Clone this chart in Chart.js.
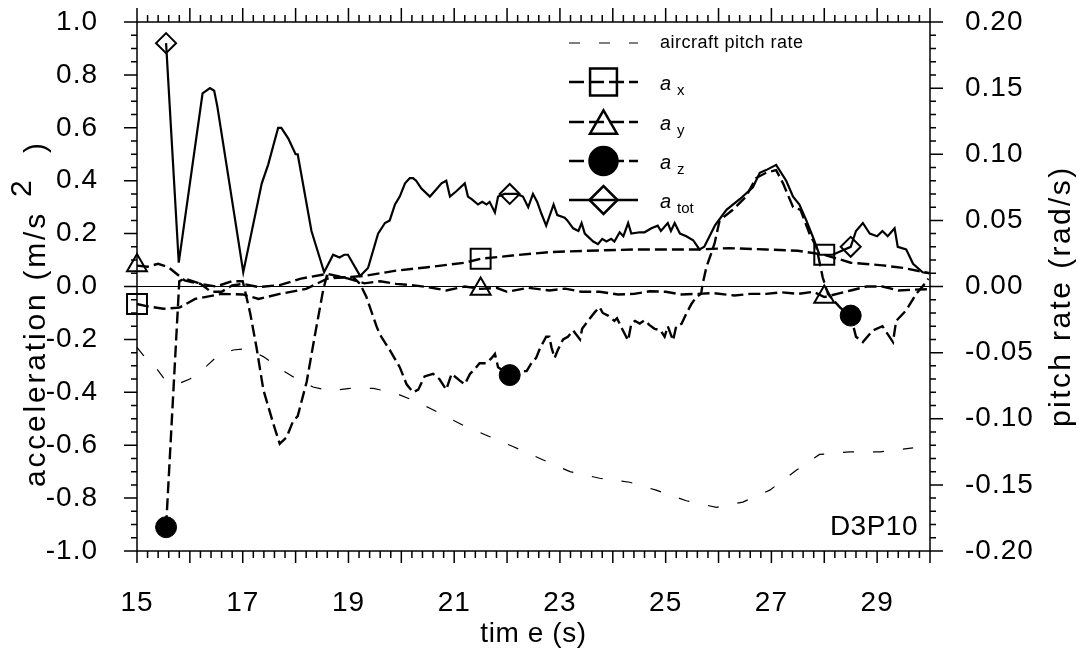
<!DOCTYPE html>
<html>
<head>
<meta charset="utf-8">
<script src="https://cdn.jsdelivr.net/npm/chart.js@4.4.0/dist/chart.umd.min.js"></script>
<style>
  html, body { margin: 0; padding: 0; background: #fff; }
</style>
</head>
<body>
<canvas id="accChart" width="1079" height="657"></canvas>
<script>
// axis tick labels
const timeLabels = [15, 17, 19, 21, 23, 25, 27, 29];
const accLabels = [-1.0, -0.8, -0.6, -0.4, -0.2, 0.0, 0.2, 0.4, 0.6, 0.8, 1.0];
const pitchLabels = [-0.20, -0.15, -0.10, -0.05, 0.00, 0.05, 0.10, 0.15, 0.20];

// times where the symbols sit
const markerTimesXY = [15.0, 21.5, 28.0];
const markerTimesZT = [15.55, 22.05, 28.5];

// a_x
const timeX = [15.0, 15.2, 15.5, 15.8, 16.1, 16.6, 17.0, 17.3, 17.7, 18.2, 18.6, 19.3, 19.9, 20.5, 21.2, 21.5, 22.1, 22.8, 23.5, 24.4, 25.6, 26.2, 26.9, 27.5, 28.0, 28.5, 29.1, 29.5, 30.0];
const accX = [-0.066, -0.075, -0.084, -0.08, -0.047, -0.028, -0.03, -0.047, -0.028, -0.009, 0.03, 0.04, 0.06, 0.073, 0.09, 0.105, 0.117, 0.13, 0.135, 0.14, 0.14, 0.145, 0.14, 0.135, 0.12, 0.09, 0.08, 0.07, 0.05];

// a_y
const timeY = [15.0, 15.2, 15.4, 15.6, 15.8, 15.9, 16.2, 16.4, 16.6, 16.8, 17.0, 17.3, 17.7, 18.1, 18.6, 19.0, 19.3, 19.6, 19.9, 20.2, 20.5, 20.85, 21.2, 21.5, 21.8, 22.0, 22.4, 22.8, 23.1, 23.4, 23.75, 24.1, 24.4, 24.7, 25.0, 25.3, 25.6, 25.9, 26.3, 26.6, 26.9, 27.2, 27.5, 27.8, 28.0, 28.3, 28.5, 28.8, 29.1, 29.4, 29.7, 30.0];
const accY = [0.079, 0.075, 0.086, 0.072, 0.04, 0.023, 0.01, -0.02, -0.02, 0.004, 0.01, -0.002, 0.005, 0.03, 0.048, 0.03, 0.012, 0.02, 0.01, 0.005, -0.002, -0.015, 0.0, -0.009, -0.005, -0.02, -0.005, -0.015, -0.008, -0.02, -0.02, -0.03, -0.028, -0.018, -0.02, -0.03, -0.028, -0.025, -0.034, -0.028, -0.028, -0.022, -0.028, -0.02, -0.04, -0.025, -0.015, 0.0, 0.0, -0.015, -0.012, -0.01];

// a_z
const timeZ = [15.55, 15.8, 15.9, 16.2, 16.5, 16.8, 17.0, 17.14, 17.26, 17.39, 17.58, 17.7, 17.83, 17.95, 18.04, 18.21, 18.36, 18.52, 18.59, 18.77, 19.09, 19.22, 19.34, 19.53, 19.59, 19.78, 19.97, 20.1, 20.22, 20.32, 20.44, 20.6, 20.72, 20.85, 20.95, 21.1, 21.2, 21.3, 21.4, 21.48, 21.6, 21.71, 21.77, 21.83, 22.05, 22.2, 22.37, 22.46, 22.55, 22.62, 22.74, 22.8, 22.84, 22.9, 22.96, 23.06, 23.15, 23.25, 23.38, 23.42, 23.53, 23.66, 23.75, 23.81, 23.91, 24.03, 24.08, 24.16, 24.29, 24.35, 24.42, 24.51, 24.6, 24.69, 24.79, 24.9, 24.98, 25.04, 25.14, 25.2, 25.3, 25.39, 25.49, 25.58, 25.67, 25.7, 25.77, 25.86, 25.93, 26.02, 26.27, 26.52, 26.71, 26.9, 27.09, 27.22, 27.41, 27.55, 27.72, 27.85, 27.97, 28.07, 28.3, 28.5, 28.6, 28.73, 28.92, 29.1, 29.3, 29.36, 29.55, 29.74, 29.9, 29.97];
const accZ = [-0.91, 0.02, 0.03, 0.01, 0.0, 0.02, 0.02, -0.1, -0.23, -0.39, -0.52, -0.595, -0.57, -0.51, -0.49, -0.36, -0.19, -0.015, 0.04, 0.035, 0.035, 0.01, -0.04, -0.15, -0.18, -0.24, -0.305, -0.37, -0.4, -0.39, -0.34, -0.33, -0.35, -0.39, -0.33, -0.355, -0.37, -0.33, -0.31, -0.29, -0.29, -0.27, -0.255, -0.305, -0.335, -0.32, -0.32, -0.29, -0.27, -0.235, -0.19, -0.19, -0.23, -0.27, -0.24, -0.2, -0.19, -0.166, -0.2, -0.16, -0.13, -0.097, -0.078, -0.1, -0.11, -0.13, -0.12, -0.154, -0.204, -0.141, -0.13, -0.14, -0.128, -0.145, -0.16, -0.165, -0.19, -0.15, -0.204, -0.15, -0.141, -0.103, -0.065, -0.04, -0.028, 0.01, 0.073, 0.124, 0.167, 0.25, 0.29, 0.34, 0.41, 0.43, 0.44, 0.39, 0.3, 0.29, 0.2, 0.15, 0.035, -0.028, -0.08, -0.11, -0.19, -0.21, -0.166, -0.15, -0.21, -0.13, -0.09, -0.028, 0.01, 0.03];

// a_tot
const timeTot = [15.55, 15.79, 16.24, 16.38, 16.46, 16.52, 16.76, 17.01, 17.36, 17.48, 17.67, 17.73, 17.86, 18.0, 18.04, 18.3, 18.54, 18.71, 18.83, 18.92, 18.99, 19.22, 19.37, 19.56, 19.69, 19.78, 19.88, 19.97, 20.07, 20.16, 20.22, 20.28, 20.38, 20.54, 20.63, 20.76, 20.85, 20.92, 21.04, 21.2, 21.26, 21.33, 21.45, 21.53, 21.61, 21.67, 21.77, 21.83, 21.95, 22.05, 22.18, 22.3, 22.4, 22.49, 22.57, 22.65, 22.74, 22.88, 22.95, 23.09, 23.14, 23.25, 23.35, 23.41, 23.47, 23.63, 23.72, 23.8, 23.88, 23.97, 24.03, 24.13, 24.2, 24.29, 24.35, 24.51, 24.6, 24.73, 24.85, 24.91, 25.04, 25.1, 25.17, 25.27, 25.39, 25.52, 25.64, 25.73, 25.83, 25.93, 26.15, 26.4, 26.65, 26.78, 26.9, 27.09, 27.28, 27.41, 27.53, 27.66, 27.78, 27.91, 28.16, 28.5, 28.6, 28.73, 28.86, 29.0, 29.1, 29.2, 29.33, 29.39, 29.55, 29.68, 29.86, 29.98];
const accTot = [0.92, 0.09, 0.73, 0.75, 0.74, 0.68, 0.375, 0.054, 0.39, 0.46, 0.6, 0.6, 0.56, 0.5, 0.5, 0.21, 0.054, 0.12, 0.11, 0.12, 0.12, 0.04, 0.07, 0.2, 0.24, 0.25, 0.31, 0.34, 0.39, 0.41, 0.41, 0.4, 0.37, 0.34, 0.36, 0.39, 0.4, 0.34, 0.36, 0.39, 0.34, 0.33, 0.31, 0.32, 0.31, 0.32, 0.28, 0.34, 0.35, 0.35, 0.35, 0.34, 0.3, 0.35, 0.32, 0.275, 0.23, 0.31, 0.27, 0.26, 0.25, 0.22, 0.21, 0.24, 0.2, 0.17, 0.16, 0.18, 0.17, 0.18, 0.17, 0.205, 0.19, 0.24, 0.2, 0.205, 0.205, 0.22, 0.23, 0.21, 0.24, 0.21, 0.24, 0.2, 0.19, 0.175, 0.14, 0.15, 0.19, 0.23, 0.29, 0.33, 0.375, 0.43, 0.44, 0.46, 0.4, 0.34, 0.31, 0.25, 0.19, 0.12, 0.12, 0.15, 0.21, 0.24, 0.2, 0.19, 0.21, 0.19, 0.22, 0.15, 0.14, 0.086, 0.054, 0.05];

// aircraft pitch rate (rad/s, right axis)
const timePitch = [15.0, 15.12, 15.37, 15.5, 15.75, 16.0, 16.32, 16.51, 16.82, 17.07, 17.39, 17.7, 18.02, 18.33, 18.65, 19.03, 19.47, 19.91, 20.22, 20.54, 21.17, 21.64, 22.11, 22.62, 23.19, 23.75, 24.32, 24.82, 25.39, 25.96, 26.46, 26.97, 27.47, 27.91, 28.48, 29.05, 29.68];
const pitchRate = [-0.046, -0.052, -0.062, -0.069, -0.074, -0.07, -0.06, -0.053, -0.048, -0.047, -0.053, -0.062, -0.07, -0.076, -0.079, -0.077, -0.077, -0.081, -0.086, -0.092, -0.105, -0.113, -0.121, -0.13, -0.14, -0.145, -0.148, -0.154, -0.162, -0.167, -0.163, -0.154, -0.139, -0.127, -0.125, -0.125, -0.122];

const FONT = "'Liberation Sans', Arial, sans-serif";
Chart.defaults.font.family = FONT;
Chart.defaults.color = '#000';

const pts = (ts, vs) => ts.map((t, i) => ({ x: t, y: vs[i] }));
const markerRadius = (times, r) => (c) => {
    const t = c.raw ? c.raw.x : NaN;
    return times.some(m => Math.abs(m - t) < 1e-6) ? r : 0;
};
const near = (v, list) => list.some(l => Math.abs(l - v) < 1e-6);

// fixed box sizes so the plot area lands where the original has it
const fixBox = (w, h) => (s) => {
    if (w !== null) s.width = w;
    if (h !== null) s.height = h;
    s.paddingTop = 0;
    s.paddingBottom = 0;
    s.paddingLeft = 0;
    s.paddingRight = 0;
};

// Frame, ticks, titles and legend
const framePlugin = {
    id: 'framePlugin',
    beforeDraw(chart) {
        chart.ctx.letterSpacing = '1px';
    },
    beforeDatasetsDraw(chart) {
        const { ctx, chartArea: a, scales } = chart;
        const y0 = scales.y.getPixelForValue(0);
        ctx.save();
        ctx.strokeStyle = '#000';
        ctx.lineWidth = 1;
        ctx.beginPath();
        ctx.moveTo(a.left, y0);
        ctx.lineTo(a.right, y0);
        ctx.stroke();
        ctx.restore();
    },
    afterDraw(chart) {
        const { ctx, chartArea: a, scales } = chart;
        const x = scales.x, y = scales.y, y2 = scales.y2;
        ctx.save();
        ctx.strokeStyle = '#000';
        ctx.fillStyle = '#000';
        ctx.lineWidth = 1.5;
        ctx.strokeRect(a.left, a.top, a.right - a.left, a.bottom - a.top);

        ctx.beginPath();
        for (let i = 0; i <= 75; i++) {
            const px = x.getPixelForValue(15 + i * 0.2);
            const major = i % 5 === 0;
            ctx.moveTo(px, a.bottom); ctx.lineTo(px, a.bottom + (major ? 12 : 7));
            ctx.moveTo(px, a.top); ctx.lineTo(px, a.top - (major ? 14 : 7));
        }
        for (let i = 0; i <= 40; i++) {
            const py = y.getPixelForValue(-1 + i * 0.05);
            ctx.moveTo(a.left, py); ctx.lineTo(a.left - (i % 4 === 0 ? 13 : 6), py);
        }
        for (let i = 0; i <= 40; i++) {
            const py = y2.getPixelForValue(-0.2 + i * 0.01);
            ctx.moveTo(a.right, py); ctx.lineTo(a.right + (i % 5 === 0 ? 13 : 6), py);
        }
        ctx.stroke();

        // axis titles
        ctx.textBaseline = 'alphabetic';
        ctx.font = '28px ' + FONT;
        ctx.letterSpacing = '0.6px';
        ctx.textAlign = 'center';
        ctx.fillText('tim e (s)', (a.left + a.right) / 2, 642);

        ctx.textAlign = 'left';
        ctx.font = '30px ' + FONT;
        ctx.letterSpacing = '2.8px';
        ctx.save();
        ctx.translate(45, 487);
        ctx.rotate(-Math.PI / 2);
        ctx.fillText('acceleration (m/s', 0, 0);
        ctx.fillText('2', 290, -14);
        ctx.fillText(')', 334, 0);
        ctx.restore();

        ctx.letterSpacing = '2.4px';
        ctx.save();
        ctx.translate(1070, 427);
        ctx.rotate(-Math.PI / 2);
        ctx.fillText('pitch rate (rad/s)', 0, 0);
        ctx.restore();

        // panel tag
        ctx.font = '28px ' + FONT;
        ctx.letterSpacing = '0.5px';
        ctx.textAlign = 'right';
        ctx.fillText('D3P10', 918, 535);

        // legend
        const lx0 = 569, lx1 = 638, lxm = 603.5, tx = 660;
        ctx.textAlign = 'left';
        ctx.textBaseline = 'middle';
        ctx.lineWidth = 1.2;
        ctx.setLineDash([11, 19]);
        ctx.beginPath();
        ctx.moveTo(lx0, 43); ctx.lineTo(lx1, 43);
        ctx.stroke();
        ctx.setLineDash([]);
        ctx.font = '18px ' + FONT;
        ctx.letterSpacing = '0.5px';
        ctx.fillText('aircraft pitch rate', tx, 43);

        const rows = [
            { yy: 82, style: 'rect', r: 19, fill: false, dash: [15, 5], sub: 'x' },
            { yy: 122, style: 'triangle', r: 15.6, fill: false, dash: [15, 5], sub: 'y' },
            { yy: 161, style: 'circle', r: 14, fill: true, dash: [15, 5], sub: 'z' },
            { yy: 200, style: 'rectRot', r: 14, fill: false, dash: [], sub: 'tot' }
        ];
        rows.forEach(row => {
            ctx.lineWidth = 2.5;
            ctx.setLineDash(row.dash);
            ctx.beginPath();
            ctx.moveTo(lx0, row.yy); ctx.lineTo(lx1, row.yy);
            ctx.stroke();
            ctx.setLineDash([]);
            ctx.fillStyle = row.fill ? '#000' : 'rgba(0,0,0,0)';
            const cy = row.style === 'triangle' ? row.yy + row.r * 0.25 : row.yy;
            Chart.helpers.drawPoint(ctx, { pointStyle: row.style, rotation: 0, radius: row.r, borderWidth: 2.5 }, lxm, cy);
            ctx.fillStyle = '#000';
            ctx.font = 'italic 20px ' + FONT;
            ctx.letterSpacing = '0px';
            ctx.fillText('a', tx, row.yy + 2);
            ctx.font = '15px ' + FONT;
            ctx.fillText(row.sub, tx + 17, row.yy + 9);
        });
        ctx.restore();
    }
};

const dashed = [12, 5];

new Chart(document.getElementById('accChart').getContext('2d'), {
    type: 'line',
    data: {
        datasets: [
            {
                label: 'aircraft pitch rate',
                data: pts(timePitch, pitchRate),
                yAxisID: 'y2',
                borderColor: '#000',
                borderWidth: 1.2,
                borderDash: [11, 19],
                pointRadius: 0
            },
            {
                label: 'a x',
                data: pts(timeX, accX),
                yAxisID: 'y',
                borderColor: '#000',
                borderWidth: 2.4,
                borderDash: dashed,
                pointStyle: 'rect',
                pointRadius: markerRadius(markerTimesXY, 14.1),
                pointBorderWidth: 2,
                pointBorderColor: '#000',
                pointBackgroundColor: 'rgba(0,0,0,0)'
            },
            {
                label: 'a y',
                data: pts(timeY, accY),
                yAxisID: 'y',
                borderColor: '#000',
                borderWidth: 2.4,
                borderDash: dashed,
                pointStyle: 'triangle',
                pointRadius: markerRadius(markerTimesXY, 11.5),
                pointBorderWidth: 2,
                pointBorderColor: '#000',
                pointBackgroundColor: 'rgba(0,0,0,0)'
            },
            {
                label: 'a z',
                data: pts(timeZ, accZ),
                yAxisID: 'y',
                borderColor: '#000',
                borderWidth: 2.4,
                borderDash: dashed,
                pointStyle: 'circle',
                pointRadius: markerRadius(markerTimesZT, 10.5),
                pointBorderWidth: 1,
                pointBorderColor: '#000',
                pointBackgroundColor: '#000'
            },
            {
                label: 'a tot',
                data: pts(timeTot, accTot),
                yAxisID: 'y',
                borderColor: '#000',
                borderWidth: 2.2,
                pointStyle: 'rectRot',
                pointRadius: markerRadius(markerTimesZT, 10),
                pointBorderWidth: 2,
                pointBorderColor: '#000',
                pointBackgroundColor: 'rgba(0,0,0,0)'
            }
        ]
    },
    options: {
        responsive: false,
        animation: false,
        clip: false,
        layout: { autoPadding: false, padding: { top: 22, left: 0, right: 0, bottom: 0 } },
        plugins: {
            legend: { display: false },
            tooltip: { enabled: false }
        },
        elements: { line: { tension: 0, fill: false } },
        scales: {
            x: {
                type: 'linear',
                position: 'bottom',
                min: 15,
                max: 30,
                grid: { display: false },
                border: { display: false },
                ticks: {
                    stepSize: 1,
                    autoSkip: false,
                    maxRotation: 0,
                    padding: 27,
                    font: { size: 28 },
                    callback: v => near(v, timeLabels) ? String(Math.round(v)) : ''
                },
                afterFit: fixBox(null, 106)
            },
            y: {
                type: 'linear',
                position: 'left',
                min: -1,
                max: 1,
                grid: { display: false },
                border: { display: false },
                ticks: {
                    stepSize: 0.2,
                    padding: 31,
                    font: { size: 28 },
                    callback: v => near(v, accLabels) ? (Math.abs(v) < 1e-9 ? 0 : v).toFixed(1) : ''
                },
                afterFit: fixBox(137, null)
            },
            y2: {
                type: 'linear',
                position: 'right',
                min: -0.2,
                max: 0.2,
                grid: { display: false },
                border: { display: false },
                ticks: {
                    stepSize: 0.05,
                    padding: 27,
                    font: { size: 28 },
                    callback: v => near(v, pitchLabels) ? (Math.abs(v) < 1e-9 ? 0 : v).toFixed(2) : ''
                },
                afterFit: fixBox(149, null)
            }
        }
    },
    plugins: [framePlugin]
});
</script>
</body>
</html>
